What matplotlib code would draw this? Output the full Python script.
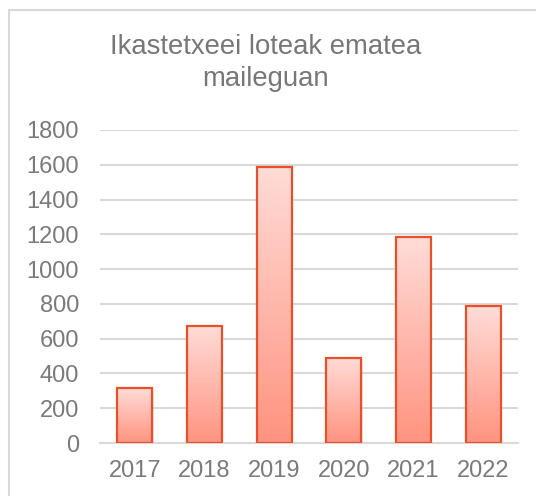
import numpy as np
import matplotlib
matplotlib.use('Agg')
import matplotlib.pyplot as plt
from matplotlib.patches import Rectangle
from matplotlib.colors import LinearSegmentedColormap

# Datos
anios = ['2017', '2018', '2019', '2020', '2021', '2022']
valores = [315, 673, 1590, 490, 1184, 786]
titulo = 'Ikastetxeei loteak ematea\nmaileguan'
yticks = list(range(0, 1801, 200))

plt.rcParams['font.family'] = ['Liberation Sans', 'DejaVu Sans']

fig = plt.figure(figsize=(5.36, 4.96), dpi=100)
ax = fig.add_axes([100 / 536, 1 - 443 / 496, 418 / 536, 313 / 496])

# borde del grafico
fig.patches.append(Rectangle((9 / 536, -0.1), 1.2, 1 - 10 / 496 + 0.1,
                             transform=fig.transFigure, fill=False,
                             edgecolor='#d9d9d9', lw=1.5))

x = np.arange(len(anios))
ancho = 0.5
cmap = LinearSegmentedColormap.from_list('grad', ['#ff9380', '#ffdcd7'])
grad = np.linspace(0, 1, 256).reshape(-1, 1)

bars = ax.bar(x, valores, width=ancho, color='none', edgecolor='#e8502a',
              linewidth=1.6, zorder=4)
for b in bars:
    x0, w, h = b.get_x(), b.get_width(), b.get_height()
    # sombra suave
    ax.add_patch(Rectangle((x0 + 0.02, -8), w, h, facecolor='#000000',
                           alpha=0.08, lw=0, zorder=2))
    im = ax.imshow(grad, extent=[x0, x0 + w, 0, h], origin='lower',
                   cmap=cmap, aspect='auto', zorder=3)
    im.set_clip_path(b)

ax.set_xlim(-0.5, len(anios) - 0.5)
ax.set_ylim(0, 1800)
ax.set_yticks(yticks)
ax.set_xticks(x)
ax.set_xticklabels(anios)
ax.yaxis.grid(True, color='#d9d9d9', linewidth=1.5, zorder=0)
ax.set_axisbelow(True)
for s in ['top', 'right', 'left']:
    ax.spines[s].set_visible(False)
ax.spines['bottom'].set_color('#d9d9d9')
ax.spines['bottom'].set_linewidth(1.5)
ax.tick_params(axis='both', length=0, labelsize=17, colors='#7a7a7a')
ax.tick_params(axis='y', pad=15)
ax.tick_params(axis='x', pad=12)

fig.text(266 / 536, 1 - 63 / 496, titulo, ha='center', va='center',
         fontsize=19.8, color='#777777', linespacing=1.32)

fig.savefig('out.png', dpi=100)
